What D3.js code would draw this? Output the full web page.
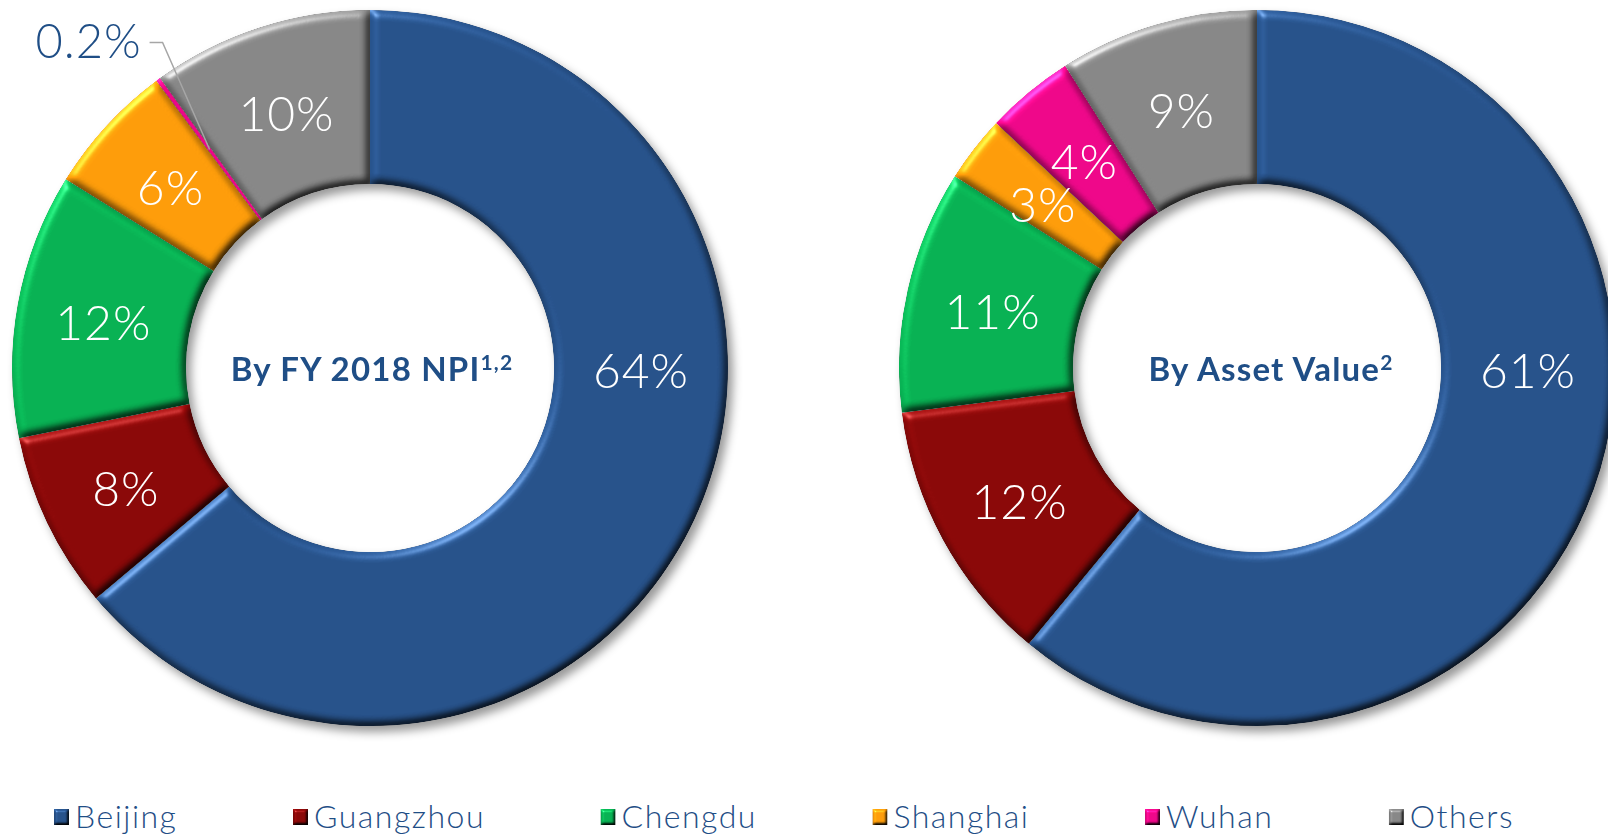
<!DOCTYPE html>
<html>
<head>
<meta charset="utf-8">
<script src="https://cdn.jsdelivr.net/npm/d3@7"></script>
<style>
  html, body { margin: 0; padding: 0; background: #fff; overflow: hidden; }
  svg { display: block; }
</style>
</head>
<body>
<script>
// city order, clockwise from 12 o'clock
var cities = ['Beijing', 'Guangzhou', 'Chengdu', 'Shanghai', 'Wuhan', 'Others'];
var cityColors = ['#27528a', '#8a0808', '#08b153', '#fd9c0a', '#ee0789', '#878787'];

// share of FY 2018 NPI (%)
var npiShare = [64, 8, 12, 6, 0.2, 10];
var npiLabels = ['64%', '8%', '12%', '6%', '0.2%', '10%'];

// share of asset value (%)
var assetShare = [61, 12, 11, 3, 4, 9];
var assetLabels = ['61%', '12%', '11%', '3%', '4%', '9%'];

var width = 1608, height = 834;
var outerR = 358, innerR = 184;
var textBlue = '#1f4e86';

var svg = d3.select('body').append('svg')
    .attr('width', width)
    .attr('height', height);

var defs = svg.append('defs');

// bevel look: lit blurred alpha multiplied onto the fill
function bevelFilter(id, blur, scale) {
    var f = defs.append('filter').attr('id', id)
        .attr('color-interpolation-filters', 'sRGB')
        .attr('x', '-5%').attr('y', '-5%').attr('width', '110%').attr('height', '110%');
    f.append('feGaussianBlur').attr('in', 'SourceAlpha').attr('stdDeviation', blur).attr('result', 'blur');
    f.append('feDiffuseLighting').attr('in', 'blur').attr('surfaceScale', scale)
        .attr('diffuseConstant', 1).attr('lighting-color', '#fff').attr('result', 'light')
        .append('feDistantLight').attr('azimuth', 235).attr('elevation', 55);
    f.append('feComposite').attr('in', 'SourceGraphic').attr('in2', 'light')
        .attr('operator', 'arithmetic').attr('k1', 1.22).attr('k2', 0).attr('k3', 0).attr('k4', 0)
        .attr('result', 'shaded');
    f.append('feSpecularLighting').attr('in', 'blur').attr('surfaceScale', scale)
        .attr('specularConstant', 0.6).attr('specularExponent', 30)
        .attr('lighting-color', '#fff').attr('result', 'spec')
        .append('feDistantLight').attr('azimuth', 235).attr('elevation', 30);
    f.append('feComposite').attr('in', 'spec').attr('in2', 'SourceAlpha').attr('operator', 'in').attr('result', 'specIn');
    f.append('feComposite').attr('in', 'shaded').attr('in2', 'specIn')
        .attr('operator', 'arithmetic').attr('k1', 0).attr('k2', 1).attr('k3', 0.5).attr('k4', 0)
        .attr('result', 'lit');
    f.append('feComposite').attr('in', 'lit').attr('in2', 'SourceAlpha').attr('operator', 'in');
}
bevelFilter('bevel', 4.5, 5);
bevelFilter('bevelSmall', 1.5, 3);

var shadow = defs.append('filter').attr('id', 'shadow')
    .attr('color-interpolation-filters', 'sRGB')
    .attr('x', '-10%').attr('y', '-10%').attr('width', '125%').attr('height', '125%');
shadow.append('feDropShadow').attr('dx', 5).attr('dy', 6).attr('stdDeviation', 5)
    .attr('flood-color', '#000').attr('flood-opacity', 0.4);

var pie = d3.pie().sort(null).value(function (d) { return d; });
var arc = d3.arc().innerRadius(innerR).outerRadius(outerR);
var labelArc = d3.arc().innerRadius((innerR + outerR) / 2).outerRadius((innerR + outerR) / 2);

var charts = [
    {title: 'By FY 2018 NPI', sup: '1,2', values: npiShare, labels: npiLabels, cx: 370, titleDx: 2},
    {title: 'By Asset Value', sup: '2', values: assetShare, labels: assetLabels, cx: 1257, titleDx: 14}
];
var cy = 368;

charts.forEach(function (chart) {
    var g = svg.append('g').attr('transform', 'translate(' + chart.cx + ',' + cy + ')');
    var arcs = pie(chart.values);

    g.append('g').attr('filter', 'url(#shadow)')
        .selectAll('path')
        .data(arcs)
        .enter().append('path')
        .attr('d', arc)
        .attr('fill', function (d, i) { return cityColors[i]; })
        .attr('filter', 'url(#bevel)');

    arcs.forEach(function (d, i) {
        var label = chart.labels[i];
        if (d.data < 1) {
            // tiny slice: callout outside with a leader line
            var mid = (d.startAngle + d.endAngle) / 2;
            var p0 = labelArc.centroid(d);
            var a1 = mid + 0.066, r1 = outerR + 28;
            var p1 = [Math.sin(a1) * r1, -Math.cos(a1) * r1];
            var p2 = [p1[0] - 13, p1[1]];
            g.append('path')
                .attr('d', d3.line()([p0, p1, p2]))
                .attr('fill', 'none')
                .attr('stroke', '#a6a6a6')
                .attr('stroke-width', 1.5);
            g.append('text')
                .attr('x', p2[0] - 8)
                .attr('y', p2[1] + 16)
                .attr('text-anchor', 'end')
                .attr('font-family', 'Lato, sans-serif')
                .attr('font-weight', 300)
                .attr('font-size', 47)
                .attr('letter-spacing', 1)
                .attr('fill', textBlue)
                .text(label);
            return;
        }
        var c;
        if (i === 0) {
            // big slice label sits at 3 o'clock
            c = [(innerR + outerR) / 2, 0];
        } else {
            c = labelArc.centroid(d);
        }
        g.append('text')
            .attr('x', c[0])
            .attr('y', c[1] + 3)
            .attr('dy', '0.36em')
            .attr('text-anchor', 'middle')
            .attr('font-family', 'Lato, sans-serif')
            .attr('font-weight', 300)
            .attr('font-size', 48)
            .attr('letter-spacing', 1)
            .attr('fill', '#fff')
            .text(label);
    });

    var t = g.append('text')
        .attr('x', chart.titleDx)
        .attr('y', 13)
        .attr('text-anchor', 'middle')
        .attr('font-family', 'Lato, sans-serif')
        .attr('font-weight', 700)
        .attr('font-size', 33)
        .attr('letter-spacing', 1.2)
        .attr('fill', textBlue);
    t.append('tspan').text(chart.title);
    t.append('tspan').attr('font-size', 21).attr('dy', -11).text(chart.sup);
});

// legend, spread between the left and right ends as in the source
var legend = svg.append('g');
var keySize = 15, keyGap = 6, legendLeft = 54, legendRight = 1514;
var items = legend.selectAll('g')
    .data(cities)
    .enter().append('g');
items.append('rect')
    .attr('width', keySize).attr('height', keySize + 1)
    .attr('y', 809)
    .attr('fill', function (d, i) { return cityColors[i]; })
    .attr('filter', 'url(#bevelSmall)');
items.append('text')
    .attr('x', keySize + keyGap)
    .attr('y', 828)
    .attr('font-family', 'Lato, sans-serif')
    .attr('font-weight', 300)
    .attr('font-size', 32)
    .attr('letter-spacing', 1.5)
    .attr('fill', textBlue)
    .text(function (d) { return d; });

var widths = [];
items.each(function () { widths.push(keySize + keyGap + this.querySelector('text').getComputedTextLength()); });
var itemGap = (legendRight - legendLeft - d3.sum(widths)) / (widths.length - 1);
var x = legendLeft;
items.attr('transform', function (d, i) {
    var tx = x;
    x += widths[i] + itemGap;
    return 'translate(' + tx + ',0)';
});
</script>
</body>
</html>
